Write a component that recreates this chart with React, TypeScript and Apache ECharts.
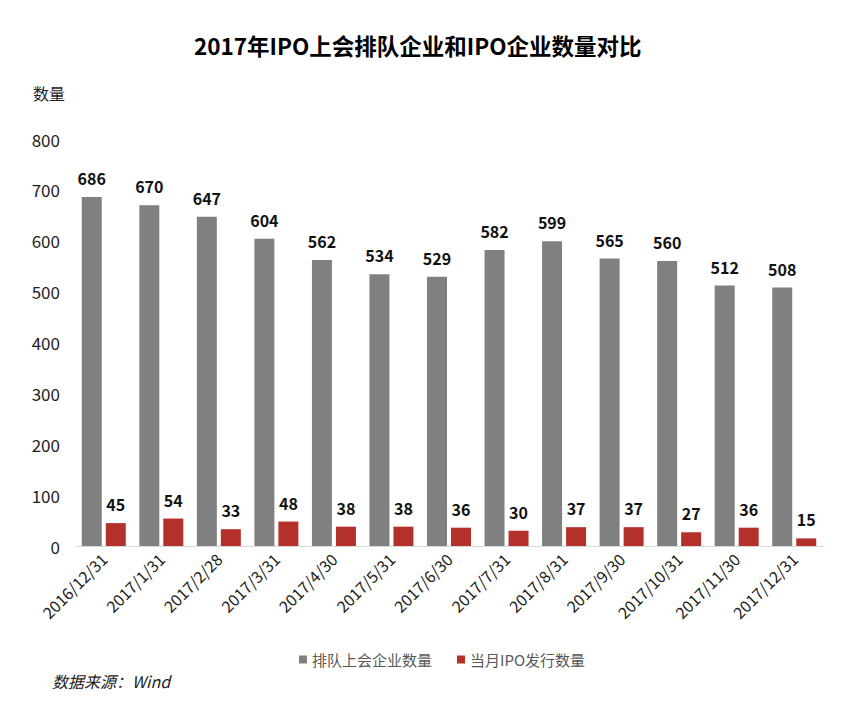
import React, { useEffect, useRef } from "react";
import * as echarts from "echarts";

const categories = [
  "2016/12/31", "2017/1/31", "2017/2/28", "2017/3/31", "2017/4/30", "2017/5/31", "2017/6/30",
  "2017/7/31", "2017/8/31", "2017/9/30", "2017/10/31", "2017/11/30", "2017/12/31",
];
const queueCounts = [686, 670, 647, 604, 562, 534, 529, 582, 599, 565, 560, 512, 508];
const ipoCounts = [45, 54, 33, 48, 38, 38, 36, 30, 37, 37, 27, 36, 15];
const seriesNames = ["排队上会企业数量", "当月IPO发行数量"];
const titleText = "2017年IPO上会排队企业和IPO企业数量对比";
const yAxisName = "数量";
const sourceText = "数据来源：Wind";

const FONT = "'Noto Sans CJK SC', 'Noto Sans', sans-serif";

export default function App() {
  const ref = useRef<HTMLDivElement>(null);
  useEffect(() => {
    if (!ref.current) return;
    const chart = echarts.init(ref.current, undefined, { renderer: "svg" });
    const labelStyle = {
      show: true,
      position: "top" as const,
      distance: 11,
      color: "#111",
      fontSize: 16,
      fontWeight: "bold" as const,
      fontFamily: FONT,
    };
    chart.setOption({
      animation: false,
      backgroundColor: "#ffffff",
      textStyle: { fontFamily: FONT },
      title: {
        text: titleText,
        left: 189,
        top: 29,
        textStyle: { fontSize: 22.5, fontWeight: "bold", color: "#000", fontFamily: FONT },
      },
      legend: {
        left: 294,
        top: 647,
        itemWidth: 8,
        itemHeight: 8,
        itemGap: 25,
        icon: "rect",
        textStyle: { fontSize: 15, color: "#595959", fontFamily: FONT },
        data: seriesNames,
      },
      grid: { left: 75, right: 41, top: 139, bottom: 165 },
      xAxis: {
        type: "category",
        data: categories,
        axisLine: { lineStyle: { color: "#d9d9d9", width: 1 } },
        axisTick: { show: false },
        axisLabel: { rotate: 45, fontSize: 16, color: "#222", margin: 10, interval: 0, fontFamily: FONT },
      },
      yAxis: {
        type: "value",
        min: 0,
        max: 800,
        interval: 100,
        splitLine: { show: false },
        axisLine: { show: false },
        axisTick: { show: false },
        axisLabel: { fontSize: 17, color: "#222", margin: 15, fontFamily: FONT },
      },
      graphic: [
        {
          type: "text",
          left: 33,
          top: 85,
          style: { text: yAxisName, fontSize: 16, fill: "#222", fontFamily: FONT },
        },
        {
          type: "text",
          left: 52,
          top: 673,
          style: { text: sourceText, fontSize: 16, fill: "#222", fontStyle: "italic", fontFamily: FONT },
        },
      ],
      series: [
        {
          name: seriesNames[0],
          type: "bar",
          data: queueCounts,
          barWidth: 20,
          barGap: "20%",
          itemStyle: { color: "#808080" },
          label: labelStyle,
        },
        {
          name: seriesNames[1],
          type: "bar",
          data: ipoCounts,
          barWidth: 20,
          itemStyle: { color: "#B3312A" },
          label: labelStyle,
        },
      ],
    });
    return () => chart.dispose();
  }, []);
  return (
    <div
      ref={ref}
      style={{ position: "absolute", left: 0, top: 0, width: 864, height: 711 }}
    />
  );
}
